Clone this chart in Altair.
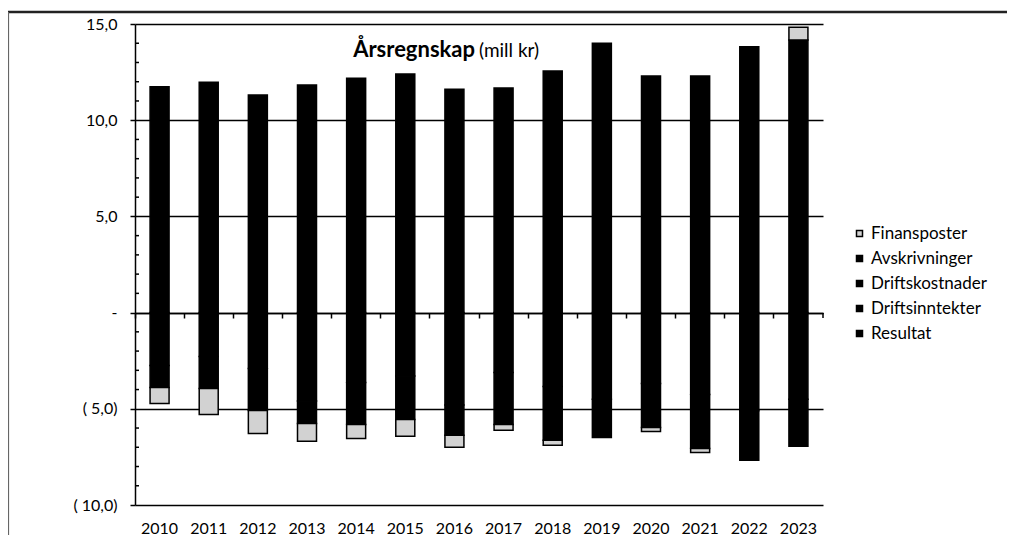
import altair as alt
import pandas as pd

years = ["2010", "2011", "2012", "2013", "2014", "2015", "2016",
         "2017", "2018", "2019", "2020", "2021", "2022", "2023"]
resultat = [0.0, 0.0, 0.0, 0.0, 0.0, 0.0, 0.0, 0.0, 0.0, 0.0, 0.0, 0.0, 0.0, 0.0]
driftsinntekter = [11.74, 11.97, 11.31, 11.83, 12.18, 12.40, 11.61,
                   11.68, 12.56, 14.00, 12.30, 12.30, 13.82, 14.17]
driftskostnader = [-2.75, -2.28, -2.90, -4.60, -3.63, -3.30, -4.80,
                   -3.11, -3.84, -4.50, -3.68, -4.26, -5.10, -4.50]
avskrivninger = [-1.14, -1.66, -2.19, -1.16, -2.18, -2.25, -1.58,
                 -2.70, -2.80, -1.99, -2.29, -2.80, -2.58, -2.45]
finansposter = [-0.83, -1.35, -1.19, -0.93, -0.73, -0.88, -0.62,
                -0.31, -0.26, 0.0, -0.21, -0.21, 0.0, 0.66]

stack_order = ["Resultat", "Driftsinntekter", "Driftskostnader", "Avskrivninger", "Finansposter"]
legend_order = ["Finansposter", "Avskrivninger", "Driftskostnader", "Driftsinntekter", "Resultat"]
series_values = {
    "Resultat": resultat,
    "Driftsinntekter": driftsinntekter,
    "Driftskostnader": driftskostnader,
    "Avskrivninger": avskrivninger,
    "Finansposter": finansposter,
}
y_major = [-10, -5, 0, 5, 10, 15]
y_minor = [-9, -8, -7, -6, -4, -3, -2, -1, 1, 2, 3, 4, 6, 7, 8, 9, 11, 12, 13, 14]
title_bold = "Årsregnskap"
title_rest = "(mill kr)"

rows = []
for name in stack_order:
    for yr, v in zip(years, series_values[name]):
        rows.append({"year": yr, "series": name, "value": v, "ord": stack_order.index(name)})
df = pd.DataFrame(rows)

FONT = "Lato"
W, H = 688, 481

xscale = alt.Scale(paddingInner=0, paddingOuter=0)
yscale = alt.Scale(domain=[-10, 15], nice=False, zero=False)

label_expr = (
    "datum.value > 0 ? replace(format(datum.value, '.1f'), '.', ',') + '\u2004' : "
    "(datum.value == 0 ? '-\u2002\u2005' : "
    "'( ' + replace(format(-datum.value, '.1f'), '.', ',') + ')')"
)

bars = alt.Chart(df).transform_filter("datum.value != 0").mark_bar(
    size=19, stroke="black", strokeWidth=1.5
).encode(
    x=alt.X("year:N", sort=years, scale=xscale, title=None,
            axis=alt.Axis(orient="bottom", domain=False, ticks=False, labelAngle=0,
                          labelFont=FONT, labelFontSize=16, labelColor="black",
                          labelPadding=15, grid=False)),
    y=alt.Y("value:Q", stack="zero", title=None, scale=yscale,
            axis=alt.Axis(values=y_major, labelExpr=label_expr, tickSize=5,
                          tickColor="black", tickWidth=1.5, domainColor="black",
                          domainWidth=1.5, grid=True, gridColor="black", gridWidth=1.3,
                          labelFont=FONT, labelFontSize=16, labelColor="black",
                          labelPadding=13)),
    color=alt.Color("series:N",
                    scale=alt.Scale(domain=legend_order,
                                    range=["#d2d2d2", "black", "black", "black", "black"]),
                    legend=alt.Legend(title=None, orient="none", legendX=716, legendY=201,
                                      symbolType="square", symbolSize=36,
                                      symbolStrokeColor="black", symbolStrokeWidth=1.5,
                                      labelFont=FONT, labelFontSize=17, labelColor="black",
                                      rowPadding=7, labelOffset=3)),
    order=alt.Order("ord:Q"),
)

minor = alt.Chart(pd.DataFrame({"v": y_minor})).mark_rule(color="black", strokeWidth=1.5).encode(
    x=alt.value(0), x2=alt.value(4), y=alt.Y("v:Q", scale=yscale, axis=None)
)

zero_axis = alt.Chart(pd.DataFrame({"year": years})).mark_point(opacity=0).encode(
    x=alt.X("year:N", sort=years, scale=xscale, title=None,
            axis=alt.Axis(orient="bottom", offset=-192, labels=False, ticks=True,
                          tickSize=5, tickWidth=1.5, tickColor="black", domain=True,
                          domainColor="black", domainWidth=1.5, bandPosition=0, grid=False))
)

one = pd.DataFrame({"a": [0]})
end_tick = alt.Chart(one).mark_rule(color="black", strokeWidth=1.5).encode(
    x=alt.value(W), y=alt.value(289), y2=alt.value(294)
)
frame_top = alt.Chart(one).mark_rule(color="#222222", strokeWidth=2.5).encode(
    x=alt.value(-127), x2=alt.value(880), y=alt.value(-12)
)
frame_left = alt.Chart(one).mark_rule(color="#666666", strokeWidth=1.2).encode(
    x=alt.value(-126.5), y=alt.value(-12), y2=alt.value(530)
)

t1 = alt.Chart(pd.DataFrame({"t": [title_bold]})).mark_text(
    font=FONT, fontSize=22, fontWeight="bold", align="right", baseline="alphabetic", color="black"
).encode(text="t:N", x=alt.value(340), y=alt.value(33))
t2 = alt.Chart(pd.DataFrame({"t": [title_rest]})).mark_text(
    font=FONT, fontSize=19, align="left", baseline="alphabetic", color="black"
).encode(text="t:N", x=alt.value(344), y=alt.value(33))

chart = alt.layer(
    bars, minor, zero_axis, end_tick, frame_top, frame_left, t1, t2
).resolve_axis(x="independent", y="independent").properties(
    width=W, height=H,
    autosize=alt.AutoSizeParams(type="none"),
    padding={"left": 127, "top": 16, "right": 184, "bottom": 30},
    background="white",
).configure_view(stroke="transparent")

chart.save("out.html", embed_options={"renderer": "svg", "actions": False})
